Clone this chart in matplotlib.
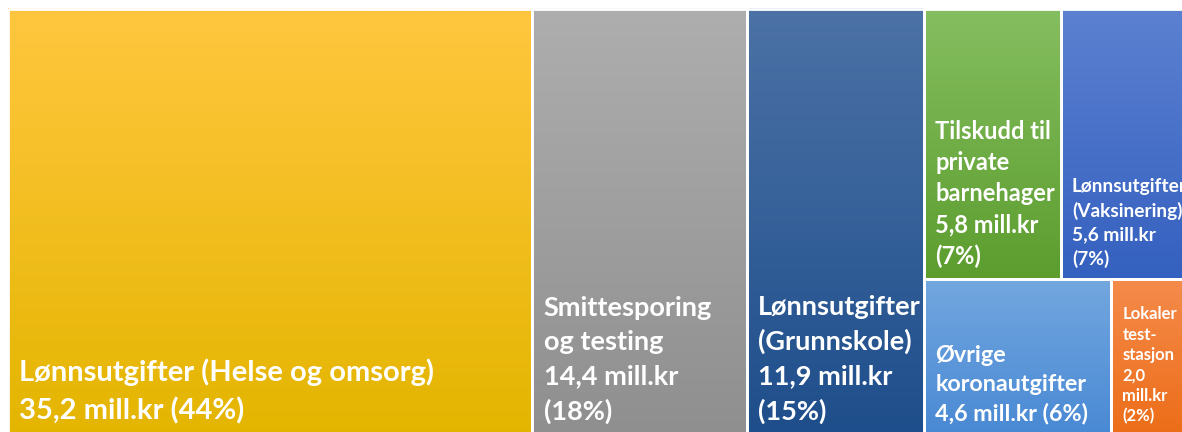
import matplotlib.pyplot as plt
import matplotlib.colors as mcolors
import numpy as np

# Koronautgifter (mill. kr)
labels = ["Lønnsutgifter (Helse og omsorg)\n35,2 mill.kr (44%)",
          "Smittesporing\nog testing\n14,4 mill.kr\n(18%)",
          "Lønnsutgifter\n(Grunnskole)\n11,9 mill.kr\n(15%)",
          "Tilskudd til\nprivate\nbarnehager\n5,8 mill.kr\n(7%)",
          "Lønnsutgifter\n(Vaksinering)\n5,6 mill.kr\n(7%)",
          "Øvrige\nkoronautgifter\n4,6 mill.kr (6%)",
          "Lokaler\ntest-\nstasjon\n2,0\nmill.kr\n(2%)"]
values = [35.2, 14.4, 11.9, 5.8, 5.6, 4.6, 2.0]
top_colors = ["#FFC73F", "#AEAEAE", "#4C72A6", "#85BE60", "#5C81D1", "#73A7DF", "#F58B4C"]
bottom_colors = ["#E4B500", "#8F8F8F", "#1E4E8B", "#5C9D2E", "#3460BF", "#4989D4", "#EC6D18"]
font_sizes = [21, 19.5, 19.5, 17, 13.8, 16.8, 12]
line_sp = [1.5, 1.5, 1.5, 1.42, 1.45, 1.45, 1.33]

# simple treemap layout: three full-height columns, then a 2x2 block
rects = []
x = 0.0
for v in values[:3]:
    rects.append((x, 0.0, v, 1.0))
    x += v
rest = sum(values[3:])
top_sum = values[3] + values[4]
bot_sum = values[5] + values[6]
h_top = top_sum / rest
h_bot = bot_sum / rest
xx = x
for v in values[3:5]:
    w = v / top_sum * rest
    rects.append((xx, 0.0, w, h_top))
    xx += w
xx = x
for v in values[5:7]:
    w = v / bot_sum * rest
    rects.append((xx, h_top, w, h_bot))
    xx += w

fig = plt.figure(figsize=(11.82, 4.32), dpi=100)
ax = fig.add_axes([0, 0, 1, 1])
ax.axis("off")

for (x0, y0, w, h), lab, c1, c2, fs, ls in zip(rects, labels, top_colors, bottom_colors,
                                                font_sizes, line_sp):
    cmap = mcolors.LinearSegmentedColormap.from_list("g", [c1, c2])
    grad = np.linspace(0, 1, 256).reshape(-1, 1)
    ax.imshow(grad, cmap=cmap, extent=(x0, x0 + w, y0 + h, y0), aspect="auto",
              interpolation="bilinear", zorder=1)
    ax.add_patch(plt.Rectangle((x0, y0), w, h, fill=False, edgecolor="white",
                               linewidth=2.0, zorder=2))
    ax.text(x0 + 0.75, y0 + h - 0.025, lab, color="white", fontsize=fs,
            fontweight="bold", family=["Lato", "DejaVu Sans"], ha="left", va="bottom",
            linespacing=ls, zorder=3)

ax.set_xlim(-0.54, 78.8)
ax.set_ylim(0.993, -0.021)
fig.savefig("out.png", dpi=100)
